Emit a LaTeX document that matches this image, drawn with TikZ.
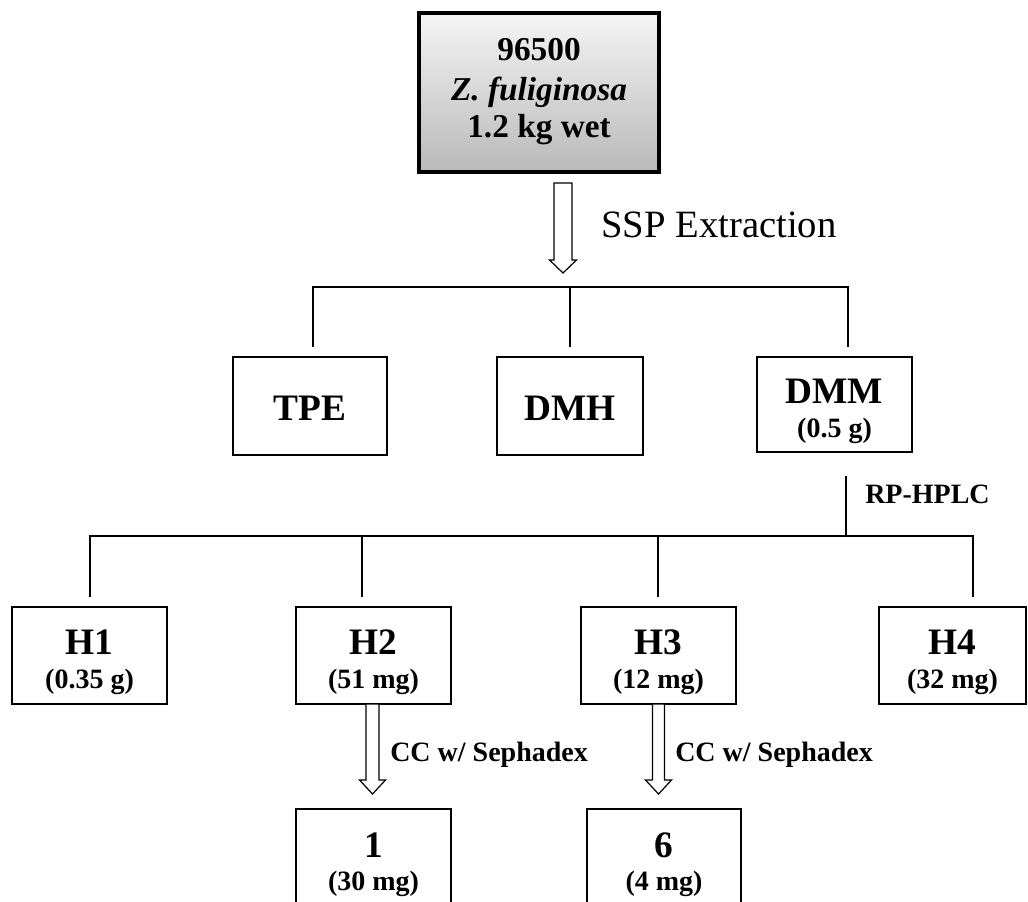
\documentclass[tikz,border=0pt]{standalone}
\usepackage{fontspec}
\setmainfont{Liberation Serif}
\begin{document}
\begin{tikzpicture}[x=0.75pt,y=-0.75pt,
  box/.style={draw=black, line width=1.5pt, inner sep=0pt, outer sep=0pt},
  conn/.style={draw=black, line width=2pt},
  big/.style={font=\fontsize{28}{30}\selectfont\bfseries, anchor=base, inner sep=0pt},
  small/.style={font=\fontsize{21}{24}\selectfont\bfseries, anchor=base, inner sep=0pt},
  toptxt/.style={font=\fontsize{25}{29}\selectfont\bfseries, anchor=base, inner sep=0pt},
  hollow/.style={draw=black, line width=0.9pt, fill=white, line join=miter}]
\useasboundingbox (0,0) rectangle (1028,901);
\clip (0,0) rectangle (1028,901);
% top box
\node[box, line width=2.4pt, top color=gray!8, bottom color=gray!55,
  minimum width=180pt, minimum height=119.25pt] (top) at (539,92.5) {};
\node[toptxt] (t1) at (539,60) {96500};
\node[toptxt] (t2) at (539,100) {\itshape Z. fuliginosa};
\node[toptxt] (t3) at (539,137) {1.2 kg wet};
% SSP arrow
\draw[hollow] (554,183) -- (554,260) -- (549.5,260) -- (563,273) -- (576.5,260) -- (572,260) -- (572,183) -- cycle;
\node[font=\fontsize{29}{32}\selectfont, anchor=base west, inner sep=0pt] (ssp) at (601,237) {SSP Extraction};
% row 2 boxes
\node[box, minimum width=115.5pt, minimum height=73.5pt] (tpe) at (310,406) {};
\node[big] (tpel) at (310,420) {TPE};
\node[box, minimum width=109.5pt, minimum height=73.5pt] (dmh) at (570,406) {};
\node[big] (dmhl) at (570,420) {DMH};
\node[box, minimum width=116.25pt, minimum height=71.25pt] (dmm) at (834.5,404.5) {};
\node[big] (dmml) at (834.5,403) {DMM};
\node[small] (dmms) at (834.5,437) {(0.5 g)};
% tree 1
\coordinate (a1) at (313,287);
\coordinate (a2) at (570,287);
\coordinate (a3) at (848,287);
\draw[conn] (a1 |- 0,347) -- (a1) -- (a3) -- (a3 |- 0,347);
\draw[conn] (a2) -- (a2 |- 0,347);
% RP-HPLC
\coordinate (r0) at (846,476);
\coordinate (r1) at (846,536);
\draw[conn] (r0) -- (r1);
\node[small, anchor=base west] (rp) at (865,503) {RP-HPLC};
% tree 2
\coordinate (b1) at (90,536);
\coordinate (b2) at (362,536);
\coordinate (b3) at (658,536);
\coordinate (b4) at (973,536);
\draw[conn] (b1 |- 0,597) -- (b1) -- (b4) -- (b4 |- 0,597);
\draw[conn] (b2) -- (b2 |- 0,597);
\draw[conn] (b3) -- (b3 |- 0,597);
% H boxes
\node[box, minimum width=116.25pt, minimum height=72.75pt] (h1) at (89.5,655.5) {};
\node[big] (h1l) at (89.5,654) {H1};
\node[small] (h1s) at (89.5,688) {(0.35 g)};
\node[box, minimum width=116.25pt, minimum height=72.75pt] (h2) at (373.5,655.5) {};
\node[big] (h2l) at (373.5,654) {H2};
\node[small] (h2s) at (373.5,688) {(51 mg)};
\node[box, minimum width=116.25pt, minimum height=72.75pt] (h3) at (658.5,655.5) {};
\node[big] (h3l) at (658.5,654) {H3};
\node[small] (h3s) at (658.5,688) {(12 mg)};
\node[box, minimum width=110.25pt, minimum height=72.75pt] (h4) at (952.5,655.5) {};
\node[big] (h4l) at (952.5,654) {H4};
\node[small] (h4s) at (952.5,688) {(32 mg)};
% CC arrows
\draw[hollow] (366,704) -- (366,780) -- (359.5,780) -- (372.5,794) -- (385.5,780) -- (379,780) -- (379,704) -- cycle;
\node[small, anchor=base west] (cc1) at (390,761) {CC w/ Sephadex};
\draw[hollow] (652.5,704) -- (652.5,780) -- (645.5,780) -- (658.5,794) -- (671.5,780) -- (664.5,780) -- (664.5,704) -- cycle;
\node[small, anchor=base west] (cc2) at (675,761) {CC w/ Sephadex};
% bottom boxes
\node[box, minimum width=116.25pt, minimum height=81pt] (c1) at (373.5,863) {};
\node[big] (c1l) at (373.5,857) {1};
\node[small] (c1s) at (373.5,890) {(30 mg)};
\node[box, minimum width=115.5pt, minimum height=81pt] (c6) at (664,863) {};
\node[big] (c6l) at (664,857) {6};
\node[small] (c6s) at (664,890) {(4 mg)};
\end{tikzpicture}
\end{document}
